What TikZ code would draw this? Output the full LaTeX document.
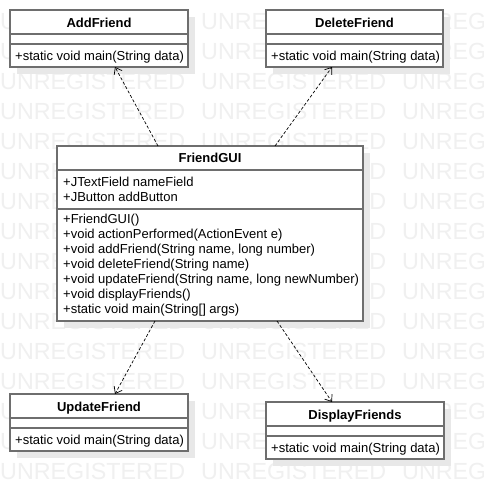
\documentclass[tikz,border=0pt]{standalone}
\usepackage{fontspec}
\setmainfont{Liberation Sans}
\usetikzlibrary{arrows.meta}
\definecolor{boxline}{HTML}{6E6E6E}
\definecolor{wmark}{HTML}{F0F0F0}
\definecolor{shadowc}{HTML}{E8E8E8}
\newcommand\umlbox[5]{% name, x, y, w, h
  \fill[shadowc] (#2+7,#3+7) rectangle ++(#4,#5);
  \node[classbox, minimum width=#4pt, minimum height=#5pt] (#1) at (#2,#3) {};
}
\begin{document}
\begin{tikzpicture}[x=1pt,y=-1pt,
  classbox/.style={draw=boxline, line width=1.3pt, fill=white, outer sep=0pt, inner sep=0pt, anchor=north west},
  sepline/.style={draw=boxline, line width=1.3pt},
  titletext/.style={font=\fontsize{13}{15}\selectfont\bfseries, inner sep=0pt, anchor=base},
  membertext/.style={font=\fontsize{13}{15}\selectfont, inner sep=0pt, anchor=base west},
  wmtext/.style={font=\fontsize{23.3}{26}\selectfont, text=wmark, inner sep=0pt, anchor=base west},
  dep/.style={draw=black, line width=0.7pt, dash pattern=on 3pt off 2pt, -{Straight Barb[length=6pt,width=9pt]}}
]
\useasboundingbox (0,0) rectangle (483,499);
\fill[white] (0,0) rectangle (483,499);
\begin{scope}
  \clip (0,0) rectangle (483,499);
  \foreach \r in {0,...,15} {
    \foreach \c in {0,1,2} {
      \node[wmtext] (wm-\r-\c) at (\c*201, 29+\r*30) {UNREGISTERED};
    }
  }
\end{scope}

% boxes
\umlbox{add}{10}{10}{178}{57}
\umlbox{del}{266}{10}{177}{57}
\umlbox{gui}{57}{146}{306}{175}
\umlbox{upd}{10}{394}{178}{57}
\umlbox{disp}{266}{402}{178}{57}

% separators of small boxes
\foreach \b in {add,del,upd,disp} {
  \draw[sepline] ([yshift=-24pt]\b.north west) -- ([yshift=-24pt]\b.north east);
  \draw[sepline] ([yshift=-34pt]\b.north west) -- ([yshift=-34pt]\b.north east);
}
\draw[sepline] ([yshift=-24pt]gui.north west) -- ([yshift=-24pt]gui.north east);
\draw[sepline] ([yshift=-63pt]gui.north west) -- ([yshift=-63pt]gui.north east);

% texts of small boxes
\node[titletext] (add-t) at ([yshift=-17pt]add.north) {AddFriend};
\node[membertext] (add-m) at ([xshift=5pt,yshift=-50pt]add.north west) {+static void main(String data)};
\node[titletext] (del-t) at ([yshift=-17pt]del.north) {DeleteFriend};
\node[membertext] (del-m) at ([xshift=5pt,yshift=-50pt]del.north west) {+static void main(String data)};
\node[titletext] (upd-t) at ([yshift=-17pt]upd.north) {UpdateFriend};
\node[membertext] (upd-m) at ([xshift=5pt,yshift=-50pt]upd.north west) {+static void main(String data)};
\node[titletext] (disp-t) at ([yshift=-17pt]disp.north) {DisplayFriends};
\node[membertext] (disp-m) at ([xshift=5pt,yshift=-50pt]disp.north west) {+static void main(String data)};

% FriendGUI texts
\node[titletext] (gui-t) at ([yshift=-16.5pt]gui.north) {FriendGUI};
\node[membertext] (gui-a1) at ([xshift=6pt,yshift=-40.5pt]gui.north west) {+JTextField nameField};
\node[membertext] (gui-a2) at ([xshift=6pt,yshift=-55.5pt]gui.north west) {+JButton addButton};
\node[membertext] (gui-m1) at ([xshift=6pt,yshift=-77.5pt]gui.north west) {+FriendGUI()};
\node[membertext] (gui-m2) at ([xshift=6pt,yshift=-92.5pt]gui.north west) {+void actionPerformed(ActionEvent e)};
\node[membertext] (gui-m3) at ([xshift=6pt,yshift=-107.5pt]gui.north west) {+void addFriend(String name, long number)};
\node[membertext] (gui-m4) at ([xshift=6pt,yshift=-122.5pt]gui.north west) {+void deleteFriend(String name)};
\node[membertext] (gui-m5) at ([xshift=6pt,yshift=-137.5pt]gui.north west) {+void updateFriend(String name, long newNumber)};
\node[membertext] (gui-m6) at ([xshift=6pt,yshift=-152.5pt]gui.north west) {+void displayFriends()};
\node[membertext] (gui-m7) at ([xshift=6pt,yshift=-167.5pt]gui.north west) {+static void main(String[] args)};

% dependencies
\draw[dep] ([xshift=101pt]gui.north west) -- ([xshift=105pt]add.south west);
\draw[dep] ([xshift=218pt]gui.north west) -- ([xshift=66pt]del.south west);
\draw[dep] ([xshift=98pt]gui.south west) -- ([xshift=105pt]upd.north west);
\draw[dep] ([xshift=220pt]gui.south west) -- ([xshift=66pt]disp.north west);
\end{tikzpicture}
\end{document}
